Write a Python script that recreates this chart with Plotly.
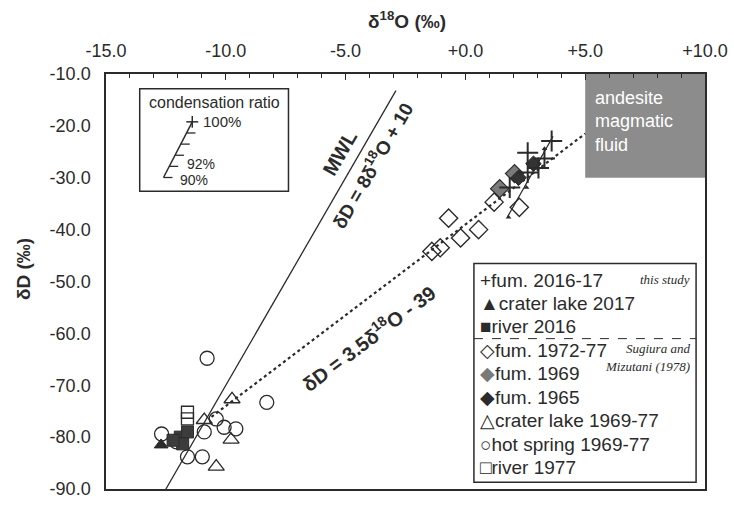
import plotly.graph_objects as go

# ---------------- data ----------------
fum2016_x = [3.6, 2.6, 3.3, 3.05, 2.6, 1.85]
fum2016_y = [-22.9, -25.2, -26.3, -28.1, -29.0, -31.9]
crater2017_x = [-12.7]
crater2017_y = [-81.5]
river2016_x = [-11.9, -11.6, -11.8, -12.2]
river2016_y = [-80.0, -79.0, -81.3, -80.6]
fum1972_x = [-1.4, -1.05, -0.7, -0.2, 0.55, 1.2, 2.25]
fum1972_y = [-44.2, -43.5, -37.8, -41.6, -40.0, -34.7, -35.7]
fum1969_x = [1.43, 2.05]
fum1969_y = [-32.1, -29.2]
fum1965_x = [2.84, 2.22]
fum1965_y = [-27.3, -30.0]
crater6977_x = [-9.74, -10.9, -9.78, -10.4]
crater6977_y = [-72.7, -76.7, -80.5, -85.7]
hot_x = [-10.78, -8.29, -10.4, -10.07, -9.58, -10.9, -12.68, -11.6, -10.98, -12.06]
hot_y = [-64.8, -73.3, -76.5, -78.1, -78.4, -79.0, -79.4, -83.8, -83.8, -80.9]
river1977_x = [-11.6, -11.6]
river1977_y = [-75.2, -76.5]
cond_line_x = [1.75, 3.66]
cond_line_y = [-37.6, -22.0]
cond_mark_x = [1.8, 2.55, 3.3]
cond_mark_y = [-37.6, -31.9, -24.4]

mwl_x = [-12.5, -2.9]
mwl_y = [8 * v + 10 for v in mwl_x]
fit_x = [-10.6, 5.0]
fit_y = [3.5 * v - 39 for v in fit_x]

box_x = [5.0, 10.0]
box_y = [-30.0, -10.0]

x_ticks = [-15, -10, -5, 0, 5, 10]
x_ticktext = ["-15.0", "-10.0", "-5.0", "+0.0", "+5.0", "+10.0"]
y_ticks = [-90, -80, -70, -60, -50, -40, -30, -20, -10]
y_ticktext = ["%.1f" % v for v in y_ticks]

legend_rows = [
    "+fum. 2016-17",
    "▲crater lake 2017",
    "■river 2016",
    "◇fum. 1972-77",
    "<span style='color:#7a7a7a'>◆</span>fum. 1969",
    "◆fum. 1965",
    "△crater lake 1969-77",
    "○hot spring 1969-77",
    "□river 1977",
]

# ---------------- layout geometry (pixels) ----------------
FW, FH = 734, 505
L, R, T, B = 106, 710, 74, 499
PW, PH = R - L, B - T


def px(x):
    return (x - L) / PW


def py(y):
    return (B - y) / PH


INK = "#2b2b2b"
FONT = "Liberation Sans, Arial, sans-serif"
SERIF = "Liberation Serif, Times New Roman, serif"

fig = go.Figure()

# lines
fig.add_trace(go.Scatter(x=mwl_x, y=mwl_y, mode="lines",
                         line=dict(color=INK, width=1.3), hoverinfo="skip"))
fig.add_trace(go.Scatter(x=fit_x, y=fit_y, mode="lines",
                         line=dict(color=INK, width=2.2, dash="dot"), hoverinfo="skip"))
fig.add_trace(go.Scatter(x=cond_line_x, y=cond_line_y, mode="lines",
                         line=dict(color=INK, width=1.3), hoverinfo="skip"))
fig.add_trace(go.Scatter(x=cond_mark_x, y=cond_mark_y, mode="markers",
                         marker=dict(symbol="triangle-up", size=5, color=INK), hoverinfo="skip"))


def pts(x, y, symbol, size, fill, line_color=INK, lw=1.3):
    fig.add_trace(go.Scatter(x=x, y=y, mode="markers",
                             marker=dict(symbol=symbol, size=size, color=fill,
                                         line=dict(color=line_color, width=lw))))


pts(hot_x, hot_y, "circle-open", 14, INK, lw=1.3)
pts(crater6977_x, crater6977_y, "triangle-up-open", 14, INK, lw=1.3)
pts(river1977_x, river1977_y, "square-open", 12, INK, lw=1.3)
pts(river2016_x, river2016_y, "square", 12, "#3c3c3c", lw=1)
pts(crater2017_x, crater2017_y, "triangle-up", 12, INK, lw=1)
pts(fum1972_x, fum1972_y, "diamond-open", 14, INK, lw=1.4)
pts(fum1969_x, fum1969_y, "diamond", 14, "#7a7a7a", lw=1.2)
pts(fum1965_x, fum1965_y, "diamond", 12, "#333333", lw=1)
fig.add_trace(go.Scatter(x=fum2016_x, y=fum2016_y, mode="markers",
                         marker=dict(symbol="cross-thin-open", size=15, color=INK,
                                     line=dict(color=INK, width=2))))

shapes = []
# andesite magmatic fluid box (data coordinates)
shapes.append(dict(type="rect", xref="x", yref="y", x0=box_x[0], x1=box_x[1],
                   y0=box_y[0], y1=box_y[1], fillcolor="#8c8c8c",
                   line=dict(width=0), layer="below"))

# condensation ratio inset
IX0, IX1, IY0, IY1 = 140, 290, 89, 194
shapes.append(dict(type="rect", xref="paper", yref="paper", x0=px(IX0), x1=px(IX1),
                   y0=py(IY1), y1=py(IY0), line=dict(color=INK, width=1.5)))
top_x, top_y, bot_x, bot_y = 193, 123, 164, 180
shapes.append(dict(type="line", xref="paper", yref="paper", x0=px(bot_x), y0=py(bot_y),
                   x1=px(top_x), y1=py(top_y), line=dict(color=INK, width=1.5)))
shapes.append(dict(type="line", xref="paper", yref="paper", x0=px(top_x - 6), y0=py(top_y),
                   x1=px(top_x + 6), y1=py(top_y), line=dict(color=INK, width=1.5)))
shapes.append(dict(type="line", xref="paper", yref="paper", x0=px(top_x), y0=py(top_y - 6),
                   x1=px(top_x), y1=py(top_y + 6), line=dict(color=INK, width=1.5)))
for t in [0.2, 0.4, 0.6, 0.8, 1.0]:
    xx = top_x + (bot_x - top_x) * t
    yy = top_y + (bot_y - top_y) * t
    shapes.append(dict(type="line", xref="paper", yref="paper", x0=px(xx), y0=py(yy),
                       x1=px(xx + 9), y1=py(yy), line=dict(color=INK, width=1.3)))

# legend box
LX0, LX1, LY0, LY1 = 477, 701, 268, 492
shapes.append(dict(type="rect", xref="paper", yref="paper", x0=px(LX0), x1=px(LX1),
                   y0=py(LY1), y1=py(LY0), line=dict(color=INK, width=1.5),
                   fillcolor="white"))
shapes.append(dict(type="line", xref="paper", yref="paper", x0=px(LX0), x1=px(LX1),
                   y0=py(345), y1=py(345), line=dict(color=INK, width=1, dash="dash")))

ann = []


def text(x, y, s, size, color=INK, family=FONT, **kw):
    d = dict(xref="paper", yref="paper", x=px(x), y=py(y), text=s, showarrow=False,
             font=dict(family=family, size=size, color=color))
    d.update(kw)
    ann.append(d)


# legend texts
rows_y = [285 + 24 * i for i in range(9)]
for s, yy in zip(legend_rows, rows_y):
    text(481, yy, s, 19, xanchor="left", yanchor="middle")
text(697, 284, "<i>this study</i>", 13, family=SERIF, xanchor="right", yanchor="middle")
text(697, 355, "<i>Sugiura and</i>", 13, family=SERIF, xanchor="right", yanchor="middle")
text(697, 374, "<i>Mizutani (1978)</i>", 13, family=SERIF, xanchor="right", yanchor="middle")

# inset texts
text(215, 103, "condensation ratio", 16, xanchor="center", yanchor="middle")
text(202, 123, "100%", 15, xanchor="left", yanchor="middle")
text(186, 166, "92%", 14, xanchor="left", yanchor="middle")
text(179, 183, "90%", 14, xanchor="left", yanchor="middle")

# andesite box text
text(597, 123, "andesite<br>magmatic<br>fluid", 18, color="white",
     xanchor="left", yanchor="middle", align="left")

# line labels
text(342, 155, "<b>MWL</b>", 20, xanchor="center", yanchor="middle", textangle=-60)
text(374, 167, "<b>δD = 8δ<sup>18</sup>O + 10</b>", 19, xanchor="center",
     yanchor="middle", textangle=-60)
text(370, 344, "<b>δD = 3.5δ<sup>18</sup>O - 39</b>", 20, xanchor="center",
     yanchor="middle", textangle=-37)

# axis titles
text(410, 19, "<b>δ<sup>18</sup>O (‰)</b>", 19, xanchor="center", yanchor="middle")
text(23, 274, "<b>δD (‰)</b>", 19, xanchor="center", yanchor="middle", textangle=-90)

fig.update_layout(
    width=FW, height=FH,
    margin=dict(l=L, r=FW - R, t=T, b=FH - B),
    paper_bgcolor="white", plot_bgcolor="white",
    showlegend=False,
    shapes=shapes, annotations=ann,
    font=dict(family=FONT, color=INK),
    xaxis=dict(range=[-15, 10], side="top", tickvals=x_ticks, ticktext=x_ticktext,
               ticks="inside", ticklen=6, tickcolor=INK, showgrid=False, zeroline=False,
               showline=True, mirror=True, linecolor=INK, linewidth=1.5,
               minor=dict(dtick=1, ticks="inside", ticklen=4, tickcolor=INK),
               tickfont=dict(size=18, family=FONT, color=INK), ticklabelstandoff=8),
    yaxis=dict(range=[-90, -10], tickvals=y_ticks, ticktext=y_ticktext,
               ticks="", showgrid=False, zeroline=False,
               showline=True, mirror=True, linecolor=INK, linewidth=1.5,
               ticklabeloverflow="allow",
               tickfont=dict(size=18, family=FONT, color=INK), ticklabelstandoff=10),
)

fig.write_html("out.html")
